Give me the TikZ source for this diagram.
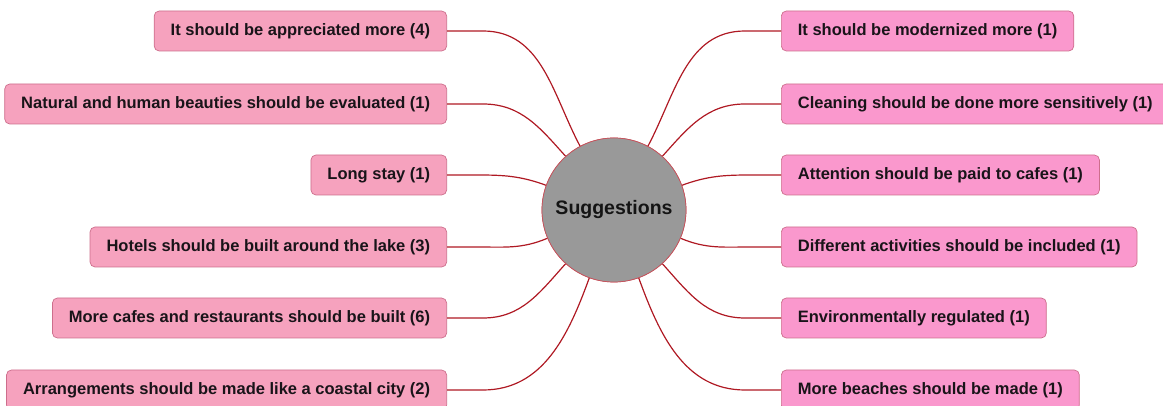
\documentclass[tikz,border=0pt]{standalone}
\usepackage{fontspec}
\setmainfont{Liberation Sans}
\begin{document}
\begin{tikzpicture}[x=1pt,y=1pt,
  boxbase/.style={draw={rgb,255:red,205;green,110;blue,140}, line width=0.7pt,
    rounded corners=5pt, minimum height=40pt, inner xsep=16.5pt, inner ysep=0pt,
    text={rgb,255:red,25;green,20;blue,25}, font=\fontsize{16.5}{19}\selectfont\bfseries},
  leftbox/.style={boxbase, fill={rgb,255:red,246;green,162;blue,190}, anchor=east},
  rightbox/.style={boxbase, fill={rgb,255:red,250;green,152;blue,205}, anchor=west},
  link/.style={draw={rgb,255:red,175;green,25;blue,35}, line width=1.2pt},
  hubstyle/.style={circle, minimum size=144pt, inner sep=0pt,
    fill={rgb,255:red,153;green,153;blue,153},
    draw={rgb,255:red,200;green,80;blue,90}, line width=0.7pt,
    text={rgb,255:red,20;green,20;blue,20}, font=\fontsize{19.5}{22}\selectfont\bfseries}]
\useasboundingbox (0,0) rectangle (1163,406);
\begin{scope}
\clip (0,0) rectangle (1163,406);

% central topic
\node[hubstyle] (hub) at (614,196) {Suggestions};

% left branch
\node[leftbox] (l1) at (447,375) {It should be appreciated more (4)};
\node[leftbox] (l2) at (447,302) {Natural and human beauties should be evaluated (1)};
\node[leftbox] (l3) at (447,231) {Long stay (1)};
\node[leftbox] (l4) at (447,159) {Hotels should be built around the lake (3)};
\node[leftbox] (l5) at (447,88) {More cafes and restaurants should be built (6)};
\node[leftbox] (l6) at (447,16) {Arrangements should be made like a coastal city (2)};

% right branch
\node[rightbox] (r1) at (781,375) {It should be modernized more (1)};
\node[rightbox] (r2) at (781,302) {Cleaning should be done more sensitively (1)};
\node[rightbox] (r3) at (781,231) {Attention should be paid to cafes (1)};
\node[rightbox] (r4) at (781,159) {Different activities should be included (1)};
\node[rightbox] (r5) at (781,88) {Environmentally regulated (1)};
\node[rightbox] (r6) at (781,16) {More beaches should be made (1)};

% connectors, left
\draw[link] (l1.east) -- ++(36,0) to[out=0,in=118] (hub.118);
\draw[link] (l2.east) -- ++(36,0) to[out=0,in=132] (hub.132);
\draw[link] (l3.east) -- ++(30,0) to[out=0,in=160] (hub.160);
\draw[link] (l4.east) -- ++(30,0) to[out=0,in=203] (hub.203);
\draw[link] (l5.east) -- ++(36,0) to[out=0,in=228] (hub.228);
\draw[link] (l6.east) -- ++(36,0) to[out=0,in=250] (hub.250);

% connectors, right
\draw[link] (r1.west) -- ++(-36,0) to[out=180,in=62] (hub.62);
\draw[link] (r2.west) -- ++(-36,0) to[out=180,in=48] (hub.48);
\draw[link] (r3.west) -- ++(-30,0) to[out=180,in=20] (hub.20);
\draw[link] (r4.west) -- ++(-30,0) to[out=180,in=-23] (hub.-23);
\draw[link] (r5.west) -- ++(-36,0) to[out=180,in=-48] (hub.-48);
\draw[link] (r6.west) -- ++(-36,0) to[out=180,in=-70] (hub.-70);

% redraw the hub over the connector ends
\node[hubstyle] at (hub.center) {Suggestions};
\end{scope}
\end{tikzpicture}
\end{document}
